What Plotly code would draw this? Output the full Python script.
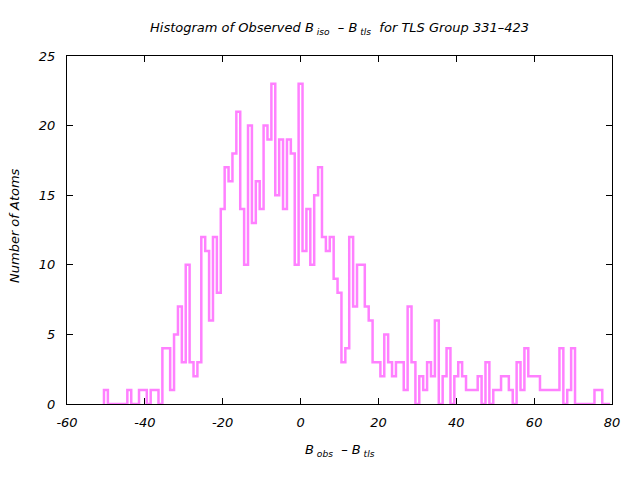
import numpy as np
import plotly.graph_objects as go

# Histogram bins (centers, 1 unit wide) and counts
bin_start = -50
counts = [
    1, 0, 0, 0, 0, 0, 1, 0, 0, 1,      # -50 .. -41
    1, 0, 1, 1, 0, 4, 4, 1, 5, 7,      # -40 .. -31
    3, 10, 3, 2, 3, 12, 11, 6, 12, 8,  # -30 .. -21
    14, 17, 16, 18, 21, 14, 10, 20, 13, 16,  # -20 .. -11
    14, 20, 19, 23, 15, 19, 14, 19, 18, 10,  # -10 .. -1
    23, 11, 14, 10, 15, 17, 12, 11, 12, 9,   # 0 .. 9
    8, 3, 4, 12, 7, 10, 10, 7, 6, 3,   # 10 .. 19
    3, 2, 5, 3, 2, 3, 3, 1, 7, 3,      # 20 .. 29
    0, 2, 1, 3, 2, 6, 0, 2, 4, 0,      # 30 .. 39
    2, 3, 2, 1, 1, 1, 2, 0, 3, 0,      # 40 .. 49
    1, 1, 2, 2, 1, 0, 3, 1, 4, 2,      # 50 .. 59
    2, 2, 1, 1, 1, 1, 1, 4, 0, 1,      # 60 .. 69
    4, 0, 0, 0, 0, 0, 1, 1, 0, 0,      # 70 .. 79
]
bin_width = 1.0

x_ticks = [-60, -40, -20, 0, 20, 40, 60, 80]
y_ticks = [0, 5, 10, 15, 20, 25]

title_text = "Histogram of Observed B<sub> iso</sub>  \u2013 B<sub> tls</sub>  for TLS Group 331\u2013423"
x_title = "B<sub> obs</sub>  \u2013 B<sub> tls</sub>"
y_title = "Number of Atoms"

# Build gnuplot-style "histeps" path from the bins
vals = np.array(counts, dtype=float)
centers = bin_start + np.arange(len(vals)) * bin_width
edges = np.concatenate([centers - bin_width / 2, [centers[-1] + bin_width / 2]])
xs = np.concatenate([[edges[0]], edges])
ys = np.concatenate([[0.0], vals, [0.0]])

font_family = "DejaVu Sans"
fig = go.Figure()
fig.add_trace(go.Scatter(
    x=xs, y=ys, mode="lines", line=dict(shape="hv", color="#ff80ff", width=2.5),
    hoverinfo="skip", showlegend=False,
))

fig.update_layout(
    width=640, height=480,
    margin=dict(l=67, r=28, t=56, b=76),
    paper_bgcolor="white", plot_bgcolor="white",
    font=dict(family=font_family, size=12, color="black", style="italic"),
    showlegend=False,
    annotations=[
        dict(text=title_text, x=0.5, y=1, xref="paper", yref="paper", yshift=28,
             showarrow=False, font=dict(size=13, style="italic"), xanchor="center", yanchor="middle"),
        dict(text=x_title, x=0.5, y=0, xref="paper", yref="paper", yshift=-46,
             showarrow=False, font=dict(size=13, style="italic"), xanchor="center", yanchor="middle"),
        dict(text=y_title, x=0, y=0.5, xref="paper", yref="paper", xshift=-53, yshift=4,
             textangle=-90, showarrow=False, font=dict(size=13, style="italic"),
             xanchor="center", yanchor="middle"),
    ],
)
fig.update_xaxes(
    range=[-60, 80], tickvals=x_ticks, ticktext=[str(v) for v in x_ticks],
    showgrid=False, zeroline=False, showline=True, linecolor="black", linewidth=1,
    mirror="ticks", ticks="inside", ticklen=6, tickcolor="black",
    tickfont=dict(size=13, style="italic"), ticklabelstandoff=6,
)
fig.update_yaxes(
    range=[0, 25], tickvals=y_ticks, ticktext=[str(v) for v in y_ticks],
    showgrid=False, zeroline=False, showline=True, linecolor="black", linewidth=1,
    mirror="ticks", ticks="inside", ticklen=6, tickcolor="black",
    tickfont=dict(size=13, style="italic"), ticklabelstandoff=8,
)

fig.write_html("out.html")
